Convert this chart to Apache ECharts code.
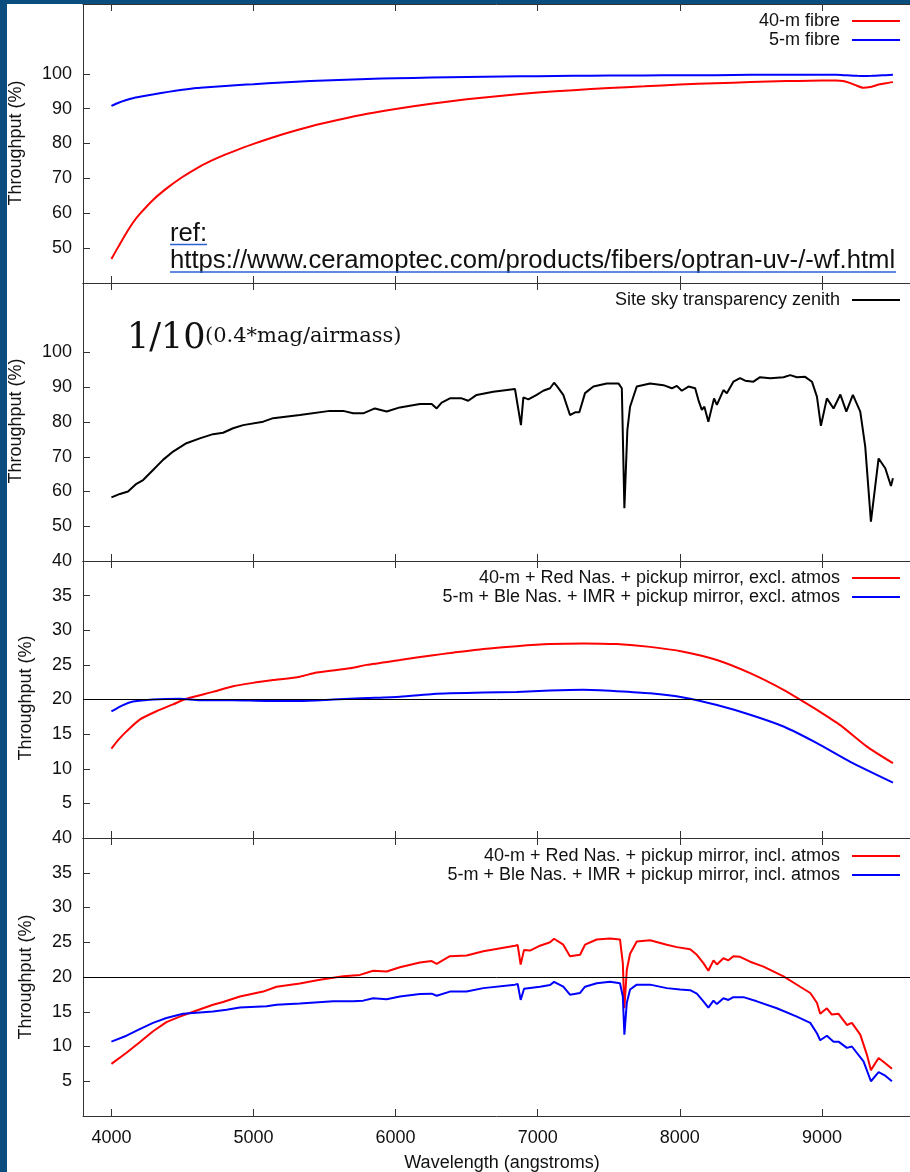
<!DOCTYPE html>
<html lang="en">
<head>
<meta charset="UTF-8">
<title>Throughput</title>
<script src="https://cdn.jsdelivr.net/npm/echarts@6/dist/echarts.min.js"></script>
<style>
    html, body {
        margin: 0;
        padding: 0;
        background: #fff;
    }
    #chart {
        width: 910px;
        height: 1172px;
    }
</style>
</head>
<body>
<div id="chart"></div>
<script>
    // tick values
    var xTicks = [4000, 5000, 6000, 7000, 8000, 9000];
    var yTicksHigh = [50, 60, 70, 80, 90, 100];
    var yTicksLow = [5, 10, 15, 20, 25, 30, 35, 40];

    // panel 1: fibre throughput
    var fibreWl = [4000, 4050, 4100, 4150, 4200, 4300, 4400, 4500, 4600, 4700, 4800, 4900, 5000, 5200, 5400, 5600, 5800, 6000,
        6250, 6500, 6750, 7000, 7250, 7500, 7750, 8000, 8250, 8500, 8750, 9000, 9100, 9150, 9200, 9250, 9290, 9350, 9400, 9450, 9500];
    var fibre40 = [46.9, 50.5, 54.0, 57.2, 59.8, 64.1, 67.5, 70.4, 72.9, 75.0, 76.8, 78.4, 79.9, 82.6, 84.9, 86.8, 88.5, 89.9,
        91.4, 92.7, 93.7, 94.6, 95.3, 95.9, 96.4, 96.9, 97.3, 97.6, 97.9, 98.1, 98.1, 97.9, 97.3, 96.5, 96.0, 96.3, 96.9, 97.3, 97.6];
    var fibre5 = [90.8, 91.7, 92.4, 93.0, 93.4, 94.1, 94.8, 95.4, 95.9, 96.2, 96.5, 96.8, 97.0, 97.5, 97.9, 98.2, 98.5, 98.7,
        98.9, 99.1, 99.2, 99.3, 99.4, 99.5, 99.5, 99.6, 99.6, 99.7, 99.7, 99.7, 99.7, 99.6, 99.5, 99.4, 99.35, 99.4, 99.5, 99.6, 99.7];

    // panel 2: sky transparency
    var skyWl = [4000, 4060, 4117, 4176, 4223, 4293, 4363, 4434, 4528, 4622, 4715, 4786, 4856, 4927, 5068, 5138, 5326, 5537,
        5631, 5701, 5772, 5854, 5937, 6030, 6171, 6254, 6289, 6324, 6382, 6465, 6511, 6570, 6687, 6840, 6852, 6882, 6899, 6934,
        6993, 7039, 7087, 7115, 7134, 7180, 7227, 7263, 7293, 7333, 7392, 7486, 7568, 7592, 7610, 7631, 7650, 7697, 7791, 7885,
        7944, 7979, 8014, 8061, 8108, 8131, 8155, 8173, 8201, 8241, 8261, 8307, 8331, 8377, 8424, 8460, 8518, 8565, 8636, 8730,
        8777, 8824, 8882, 8930, 8965, 8993, 9035, 9082, 9130, 9172, 9218, 9270, 9305, 9345, 9399, 9446, 9486, 9500];
    var skyT = [58.3, 59.3, 60.0, 62.2, 63.3, 66.2, 69.1, 71.5, 73.9, 75.3, 76.5, 76.9, 78.2, 79.1, 80.1, 81.1, 82.0, 83.2,
        83.2, 82.5, 82.5, 83.9, 83.0, 84.2, 85.2, 85.2, 83.9, 85.6, 86.8, 86.8, 86.1, 87.8, 88.7, 89.5, 90.0, 79.1, 87.1, 86.5,
        87.8, 89.0, 89.7, 91.3, 90.4, 87.8, 82.0, 82.8, 82.8, 88.3, 90.2, 91.1, 91.1, 89.7, 55.2, 77.7, 84.4, 90.2, 91.1, 90.6,
        89.7, 90.4, 89.0, 90.2, 89.7, 86.3, 83.5, 84.4, 80.1, 86.8, 84.9, 89.2, 88.3, 91.6, 92.6, 91.9, 91.6, 92.9, 92.6, 92.9,
        93.5, 92.9, 93.0, 91.6, 87.3, 78.9, 86.8, 83.9, 87.9, 83.0, 87.8, 83.0, 72.9, 51.3, 69.5, 66.7, 61.6, 63.8];

    // panel 3: system throughput excluding atmosphere
    var exclRedWl = [4000, 4050, 4106, 4199, 4317, 4434, 4528, 4715, 4856, 4997, 5138, 5326, 5444, 5678, 5796, 6030, 6265,
        6382, 6617, 6852, 7087, 7321, 7556, 7791, 8025, 8261, 8495, 8730, 8870, 8965, 9129, 9317, 9500];
    var exclRed = [12.9, 14.2, 15.4, 17.1, 18.3, 19.3, 20.1, 21.1, 21.9, 22.4, 22.8, 23.3, 23.9, 24.5, 25.0, 25.7, 26.4,
        26.7, 27.3, 27.7, 28.0, 28.1, 28.0, 27.6, 26.9, 25.7, 23.8, 21.4, 19.7, 18.5, 16.3, 13.2, 10.8];
    var exclBlueWl = [4000, 4082, 4152, 4293, 4481, 4622, 4856, 5092, 5326, 5561, 5796, 6030, 6265, 6382, 6617, 6852, 7087,
        7321, 7556, 7791, 8025, 8261, 8495, 8730, 8965, 9200, 9500];
    var exclBlue = [18.3, 19.2, 19.7, 20.0, 20.1, 19.9, 19.9, 19.8, 19.8, 20.0, 20.2, 20.4, 20.8, 20.9, 21.0, 21.1, 21.3,
        21.4, 21.2, 20.9, 20.3, 19.2, 17.8, 16.1, 13.7, 11.0, 8.0];

    // panel 4: system throughput including atmosphere
    var inclRedWl = [4000, 4106, 4199, 4293, 4387, 4481, 4575, 4715, 4786, 4904, 5068, 5162, 5326, 5467, 5631, 5749, 5842,
        5937, 6030, 6171, 6254, 6289, 6382, 6500, 6617, 6840, 6859, 6880, 6904, 6946, 7016, 7087, 7115, 7180, 7227, 7298, 7333,
        7415, 7509, 7579, 7599, 7610, 7627, 7650, 7697, 7791, 7908, 7979, 8073, 8120, 8166, 8201, 8237, 8261, 8307, 8342, 8377,
        8424, 8495, 8589, 8730, 8847, 8918, 8965, 8988, 9035, 9070, 9117, 9176, 9211, 9270, 9317, 9345, 9399, 9446, 9493];
    var inclRed = [7.5, 9.1, 10.6, 12.2, 13.5, 14.3, 15.0, 16.0, 16.4, 17.2, 17.9, 18.6, 19.05, 19.6, 20.1, 20.3, 20.9,
        20.8, 21.4, 22.1, 22.3, 21.9, 23.0, 23.1, 23.7, 24.5, 24.6, 21.8, 23.9, 23.8, 24.5, 25.0, 25.5, 24.65, 23.0, 23.2, 24.65,
        25.4, 25.55, 25.4, 22.0, 15.5, 21.05, 23.35, 25.1, 25.3, 24.65, 24.3, 24.0, 23.2, 22.0, 20.9, 22.4, 21.8, 22.7, 22.4, 23.0,
        22.9, 22.2, 21.5, 20.1, 18.6, 17.7, 16.3, 14.7, 15.5, 14.6, 14.7, 13.1, 13.4, 11.7, 8.8, 6.6, 8.35, 7.6, 6.8];
    var inclBlueWl = [4000, 4106, 4199, 4293, 4387, 4504, 4715, 4810, 4904, 5092, 5162, 5326, 5561, 5701, 5772, 5842, 5937,
        6030, 6171, 6254, 6289, 6382, 6500, 6617, 6840, 6859, 6880, 6904, 7016, 7087, 7115, 7180, 7227, 7298, 7333, 7415, 7509,
        7579, 7599, 7610, 7627, 7650, 7697, 7791, 7908, 8002, 8073, 8120, 8166, 8201, 8237, 8261, 8307, 8342, 8377, 8448, 8542,
        8683, 8824, 8918, 8965, 8988, 9035, 9082, 9117, 9176, 9211, 9293, 9345, 9399, 9446, 9493];
    var inclBlue = [10.7, 11.55, 12.5, 13.4, 14.1, 14.7, 15.05, 15.3, 15.6, 15.8, 16.0, 16.2, 16.5, 16.5, 16.6, 16.95, 16.8,
        17.2, 17.55, 17.6, 17.3, 17.9, 17.9, 18.4, 18.9, 19.0, 16.7, 18.3, 18.6, 18.85, 19.3, 18.6, 17.45, 17.7, 18.6, 19.1, 19.3,
        19.1, 17.2, 11.7, 16.3, 18.2, 18.9, 18.9, 18.4, 18.2, 18.1, 17.6, 16.5, 15.6, 16.6, 16.1, 16.95, 16.7, 17.1, 17.1, 16.5,
        15.5, 14.3, 13.4, 11.9, 10.9, 11.55, 10.7, 10.7, 9.8, 10.0, 7.85, 5.0, 6.3, 5.8, 5.0];

    function pairs(xs, ys) {
        return xs.map(function (x, i) {
            return [x, ys[i]];
        });
    }

    var FONT = '"Liberation Sans", Arial, Helvetica, sans-serif';
    var AXIS_COLOR = '#333';
    var TEXT_COLOR = '#111';

    // grid boxes (px)
    var panels = [
        {top: 4, height: 279, min: 40, max: 120, ticks: yTicksHigh, titleX: 16, titleY: 143},
        {top: 283, height: 278, min: 40, max: 120, ticks: yTicksHigh, titleX: 16, titleY: 421},
        {top: 561, height: 277, min: 0, max: 40, ticks: yTicksLow, titleX: 26, titleY: 698},
        {top: 838, height: 278, min: 0, max: 40, ticks: yTicksLow, titleX: 26, titleY: 977}
    ];

    var grids = [], xAxes = [], yAxes = [], graphics = [];

    function plain(v) {
        return String(v);
    }

    panels.forEach(function (p, i) {
        grids.push({left: 83, right: 0, top: p.top, height: p.height, containLabel: false});
        // bottom axis
        xAxes.push({
            type: 'value', gridIndex: i, position: 'bottom', min: 3800, max: 9620,
            axisLine: {show: true, onZero: false, lineStyle: {color: AXIS_COLOR, width: 1}},
            axisTick: {show: true, inside: true, length: 7, customValues: xTicks, lineStyle: {color: AXIS_COLOR}},
            axisLabel: {
                show: i === 3, customValues: xTicks, margin: 13, formatter: plain,
                fontSize: 18, fontFamily: FONT, color: TEXT_COLOR
            },
            splitLine: {show: false}
        });
        yAxes.push({
            type: 'value', gridIndex: i, min: p.min, max: p.max,
            axisLine: {show: true, lineStyle: {color: AXIS_COLOR, width: 1}},
            axisTick: {show: true, inside: true, length: 7, customValues: p.ticks, lineStyle: {color: AXIS_COLOR}},
            axisLabel: {customValues: p.ticks, margin: 11, formatter: plain, fontSize: 18, fontFamily: FONT, color: TEXT_COLOR},
            splitLine: {show: false}
        });
        graphics.push({
            type: 'text', x: p.titleX, y: p.titleY, rotation: Math.PI / 2,
            style: {
                text: 'Throughput (%)', font: '18px ' + FONT, fill: TEXT_COLOR,
                align: 'center', verticalAlign: 'middle'
            }
        });
    });
    // top mirror axes
    panels.forEach(function (p, i) {
        xAxes.push({
            type: 'value', gridIndex: i, position: 'top', min: 3800, max: 9620,
            axisLine: {show: true, onZero: false, lineStyle: {color: AXIS_COLOR, width: 1}},
            axisTick: {show: true, inside: true, length: 7, customValues: xTicks, lineStyle: {color: AXIS_COLOR}},
            axisLabel: {show: false},
            splitLine: {show: false}
        });
    });

    var line20 = {
        silent: true, symbol: ['none', 'none'], animation: false,
        label: {show: false},
        lineStyle: {color: '#000', width: 1, type: 'solid'},
        data: [{yAxis: 20}]
    };

    function mkSeries(name, idx, data, color, extra) {
        var s = {
            name: name, type: 'line', xAxisIndex: idx, yAxisIndex: idx,
            data: data, symbol: 'none', showSymbol: false,
            lineStyle: {color: color, width: 2}, itemStyle: {color: color},
            emphasis: {disabled: true}
        };
        if (extra) {
            for (var k in extra) s[k] = extra[k];
        }
        return s;
    }

    var names = {
        f40: '40-m fibre',
        f5: '5-m fibre',
        sky: 'Site sky transparency zenith',
        exR: '40-m + Red Nas. + pickup mirror, excl. atmos',
        exB: '5-m + Ble Nas. + IMR + pickup mirror, excl. atmos',
        inR: '40-m + Red Nas. + pickup mirror, incl. atmos',
        inB: '5-m + Ble Nas. + IMR + pickup mirror, incl. atmos'
    };

    var series = [
        mkSeries(names.f40, 0, pairs(fibreWl, fibre40), '#ff0000', {smooth: 0.2}),
        mkSeries(names.f5, 0, pairs(fibreWl, fibre5), '#0000ff', {smooth: 0.2}),
        mkSeries(names.sky, 1, pairs(skyWl, skyT), '#000000'),
        mkSeries(names.exR, 2, pairs(exclRedWl, exclRed), '#ff0000', {smooth: 0.2, markLine: line20}),
        mkSeries(names.exB, 2, pairs(exclBlueWl, exclBlue), '#0000ff', {smooth: 0.2}),
        mkSeries(names.inR, 3, pairs(inclRedWl, inclRed), '#ff0000', {markLine: line20}),
        mkSeries(names.inB, 3, pairs(inclBlueWl, inclBlue), '#0000ff')
    ];

    function mkLegend(top, data) {
        return {
            top: top, right: 10, padding: 0, orient: 'vertical', align: 'right',
            icon: 'rect', itemWidth: 48, itemHeight: 2, itemGap: 1, selectedMode: false,
            textStyle: {fontSize: 18, fontFamily: FONT, color: TEXT_COLOR, padding: [0, 7, 0, 0]},
            data: data
        };
    }

    var legends = [
        mkLegend(12, [names.f40, names.f5]),
        mkLegend(291, [names.sky]),
        mkLegend(569, [names.exR, names.exB]),
        mkLegend(847, [names.inR, names.inB])
    ];

    // annotations
    graphics.push(
        {
            type: 'text', x: 127, y: 339,
            style: {text: '1/10', font: '35px "DejaVu Serif", serif', fill: '#111', verticalAlign: 'middle'}
        },
        {
            type: 'text', x: 205, y: 337,
            style: {text: '(0.4*mag/airmass)', font: '21px "DejaVu Serif", serif', fill: '#111', verticalAlign: 'middle'}
        },
        {
            type: 'text', x: 170, y: 234,
            style: {text: 'ref:', font: '25.7px ' + FONT, fill: '#111', verticalAlign: 'middle'}
        },
        {
            type: 'text', x: 170, y: 261,
            style: {
                text: 'https://www.ceramoptec.com/products/fibers/optran-uv-/-wf.html',
                font: '25.7px ' + FONT, fill: '#111', verticalAlign: 'middle'
            }
        },
        {
            type: 'line', shape: {x1: 170, y1: 244.5, x2: 207, y2: 244.5},
            style: {stroke: '#2a62d4', lineWidth: 1.5}
        },
        {
            type: 'line', shape: {x1: 170, y1: 272, x2: 896, y2: 272},
            style: {stroke: '#2a62d4', lineWidth: 1.5}
        },
        {
            type: 'text', x: 502, y: 1163,
            style: {
                text: 'Wavelength (angstroms)', font: '18px ' + FONT, fill: TEXT_COLOR,
                align: 'center', verticalAlign: 'middle'
            }
        },
        // dark frame of the screenshot
        {type: 'rect', z: 100, shape: {x: 0, y: 0, width: 910, height: 4}, style: {fill: '#0b4d7e'}},
        {type: 'rect', z: 100, shape: {x: 0, y: 0, width: 7, height: 1172}, style: {fill: '#0b4d7e'}}
    );

    var chart = echarts.init(document.getElementById('chart'));
    chart.setOption({
        animation: false,
        backgroundColor: '#fff',
        grid: grids,
        xAxis: xAxes,
        yAxis: yAxes,
        legend: legends,
        series: series,
        graphic: graphics
    });
</script>
</body>
</html>
